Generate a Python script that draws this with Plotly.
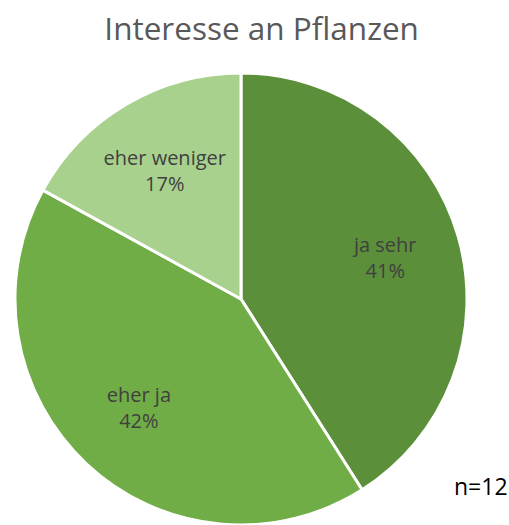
import plotly.graph_objects as go

labels = ["ja sehr", "eher ja", "eher weniger"]
values = [41, 42, 17]
colors = ["#5B8F3A", "#70AD47", "#A9D18E"]

domain = dict(x=[0.0275, 0.9194], y=[0.0, 0.861])

fig = go.Figure()
# slices
fig.add_trace(go.Pie(
    labels=labels,
    values=values,
    sort=False,
    direction="clockwise",
    rotation=0,
    marker=dict(colors=colors, line=dict(color="white", width=3)),
    textinfo="none",
    hoverinfo="label+percent",
    domain=domain,
))
# labels, placed in the outer ring of the same slices
fig.add_trace(go.Pie(
    labels=labels,
    values=values,
    sort=False,
    direction="clockwise",
    rotation=0,
    hole=0.32,
    marker=dict(colors=["rgba(0,0,0,0)"] * len(labels), line=dict(width=0)),
    texttemplate="%{label}<br>%{percent:.0%}",
    textposition="inside",
    insidetextorientation="horizontal",
    textfont=dict(family="Open Sans", size=20, color="#404040"),
    hoverinfo="skip",
    domain=domain,
))

fig.update_layout(
    width=509, height=525,
    margin=dict(l=0, r=0, t=0, b=0),
    paper_bgcolor="white",
    showlegend=False,
    title=dict(text="Interesse an Pflanzen", x=0.514, xanchor="center", y=0.945, yanchor="middle",
               font=dict(family="Open Sans", size=31.5, color="#595959")),
    annotations=[dict(text="n=12", x=0.945, y=0.075, xref="paper", yref="paper", showarrow=False,
                      xanchor="center", yanchor="middle",
                      font=dict(family="Open Sans", size=23, color="#000000"))],
)

fig.write_html("out.html", config={"displayModeBar": False},
               post_script="document.body.style.margin='0';document.body.style.overflow='hidden';")
